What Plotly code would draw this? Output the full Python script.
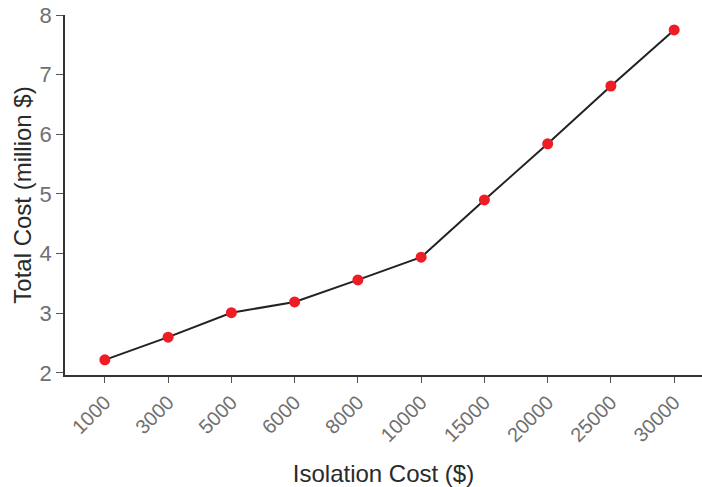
import plotly.graph_objects as go

isolation_cost = ["1000", "3000", "5000", "6000", "8000", "10000",
                  "15000", "20000", "25000", "30000"]
total_cost = [2.22, 2.60, 3.01, 3.19, 3.56, 3.94, 4.90, 5.84, 6.81, 7.75]

fig = go.Figure()
fig.add_trace(go.Scatter(x=isolation_cost, y=total_cost, mode="lines+markers",
                         line=dict(color="#222222", width=2),
                         marker=dict(color="#ee1c25", size=11)))

fig.update_layout(width=702, height=487,
                  margin=dict(l=65, r=0, t=15, b=112),
                  plot_bgcolor="white", paper_bgcolor="white",
                  showlegend=False,
                  font=dict(family="Liberation Sans, Arial, sans-serif"))
fig.update_xaxes(type="category", range=[-0.63, 9.44], automargin=False,
                 title=dict(text="Isolation Cost ($)", font=dict(size=24, color="#2a2a2a"),
                            standoff=20),
                 tickangle=-45, tickfont=dict(size=20, color="#707070"),
                 showline=True, linecolor="#333333", linewidth=1.5,
                 ticks="outside", ticklen=6, tickcolor="#555555",
                 showgrid=False, zeroline=False)
fig.update_yaxes(range=[1.966, 8.0], tickvals=[2, 3, 4, 5, 6, 7, 8], automargin=False,
                 title=dict(text="Total Cost (million $)", font=dict(size=24, color="#2a2a2a"),
                            standoff=1),
                 tickfont=dict(size=22, color="#707070"),
                 showline=True, linecolor="#333333", linewidth=1.5,
                 ticks="outside", ticklen=7, tickcolor="#555555",
                 showgrid=False, zeroline=False)

# drop the default 8px body margin so the figure sits at the page corner
fig.write_html("out.html", config={"displayModeBar": False},
               post_script="document.body.style.margin='0';")
